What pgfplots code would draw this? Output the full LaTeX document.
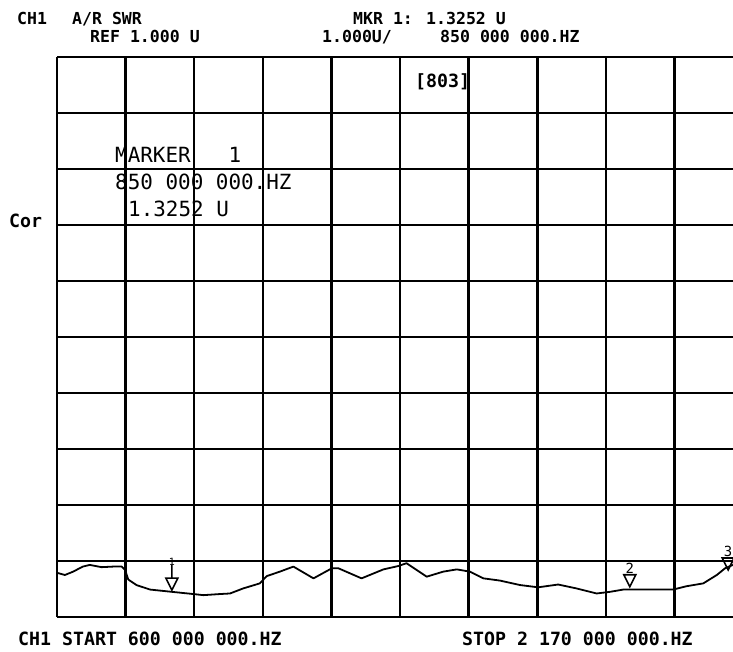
\documentclass[border=0pt]{standalone}
\usepackage{fontspec}
\setmainfont{DejaVu Sans Mono}
\usepackage{pgfplots}
\pgfplotsset{compat=1.18}
\pgfdeclareplotmark{mkrA}{%
  \pgfpathmoveto{\pgfpoint{0bp}{0bp}}%
  \pgfpathlineto{\pgfpoint{-6bp}{12bp}}%
  \pgfpathlineto{\pgfpoint{6bp}{12bp}}%
  \pgfpathclose
  \pgfpathmoveto{\pgfpoint{0bp}{12bp}}%
  \pgfpathlineto{\pgfpoint{0bp}{25bp}}%
  \pgfusepathqstroke}
\pgfdeclareplotmark{mkrB}{%
  \pgfpathmoveto{\pgfpoint{0bp}{0bp}}%
  \pgfpathlineto{\pgfpoint{-6bp}{12bp}}%
  \pgfpathlineto{\pgfpoint{6bp}{12bp}}%
  \pgfpathclose
  \pgfusepathqstroke}
\newcommand\fA{\fontsize{16.6}{18}\selectfont\bfseries}
\newcommand\fB{\fontsize{21}{22}\selectfont}
\newcommand\fC{\fontsize{18.3}{20}\selectfont\bfseries}
\begin{document}
\begin{tikzpicture}
\path[use as bounding box] (-57bp,-35bp) rectangle (676bp,617bp);
\begin{axis}[
  anchor=south west, at={(0,0)},
  scale only axis, width=676bp, height=560bp,
  xmin=600, xmax=2147.1, ymin=1, ymax=11,
  xtick={600,757,914,1071,1228,1385,1542,1699,1856,2013},
  ytick={1,2,3,4,5,6,7,8,9,10,11},
  xticklabels={}, yticklabels={},
  major tick length=0pt,
  tick style={draw=none},
  axis line style={draw=none},
  grid=major,
  grid style={black, line width=2.6pt, solid},
]
\addplot[black, line width=1.8pt, line join=round, mark=none] coordinates {
(600,1.79)(618,1.75)(637,1.81)(659,1.90)(675,1.93)(702,1.89)(728,1.90)(748,1.90)
(756,1.84)(763,1.67)(782,1.57)(813,1.49)(862,1.45)(912,1.41)(935,1.39)(973,1.41)
(996,1.42)(1026,1.51)(1064,1.60)(1080,1.73)(1110,1.81)(1141,1.90)(1187,1.69)
(1229,1.87)(1244,1.87)(1297,1.69)(1347,1.85)(1381,1.91)(1400,1.96)(1446,1.72)
(1484,1.81)(1515,1.85)(1545,1.81)(1576,1.69)(1614,1.65)(1660,1.57)(1701,1.53)
(1747,1.58)(1789,1.51)(1835,1.42)(1866,1.45)(1896,1.49)(1927,1.49)(1972,1.49)
(2010,1.49)(2041,1.55)(2079,1.60)(2110,1.75)(2129,1.87)(2147,1.93)};
\addplot[black, line width=1.6pt, only marks, mark=mkrA,
  nodes near coords={1},
  nodes near coords style={anchor=south, yshift=24bp, inner sep=0pt, font=\fontsize{10}{10}\selectfont}]
  coordinates {(863,1.48)};
\addplot[black, line width=1.6pt, only marks, mark=mkrB,
  nodes near coords={2},
  nodes near coords style={anchor=south, yshift=12bp, inner sep=0pt, font=\fontsize{14}{14}\selectfont}]
  coordinates {(1911,1.54)};
\addplot[black, line width=1.6pt, only marks, mark=mkrB,
  nodes near coords={3},
  nodes near coords style={anchor=south, yshift=12bp, inner sep=0pt, font=\fontsize{14}{14}\selectfont}]
  coordinates {(2136,1.84)};
\end{axis}
% header
\node[anchor=base west, inner sep=0pt, font=\fA] at (-40bp,592bp) {CH1};
\node[anchor=base west, inner sep=0pt, font=\fA] at (15bp,592bp) {A/R SWR};
\node[anchor=base west, inner sep=0pt, font=\fA] at (296bp,592bp) {MKR 1: 1.3252 U};
\node[anchor=base west, inner sep=0pt, font=\fA] at (33bp,574bp) {REF 1.000 U};
\node[anchor=base west, inner sep=0pt, font=\fA] at (265bp,574bp) {1.000U/};
\node[anchor=base west, inner sep=0pt, font=\fA] at (383bp,574bp) {850 000 000.HZ};
% inside
\node[anchor=base west, inner sep=0pt, font=\fB] at (58bp,454bp) {MARKER\ \ \ 1};
\node[anchor=base west, inner sep=0pt, font=\fB] at (58bp,427bp) {850 000 000.HZ};
\node[anchor=base west, inner sep=0pt, font=\fB] at (71bp,400bp) {1.3252 U};
\node[anchor=base west, inner sep=0pt, font=\fC] at (358bp,529bp) {[803]};
\node[anchor=base west, inner sep=0pt, font=\fC] at (-48bp,389bp) {Cor};
% footer
\node[anchor=base west, inner sep=0pt, font=\fC] at (-39bp,-28bp) {CH1 START 600 000 000.HZ};
\node[anchor=base west, inner sep=0pt, font=\fC] at (405bp,-28bp) {STOP 2 170 000 000.HZ};
\end{tikzpicture}
\end{document}
